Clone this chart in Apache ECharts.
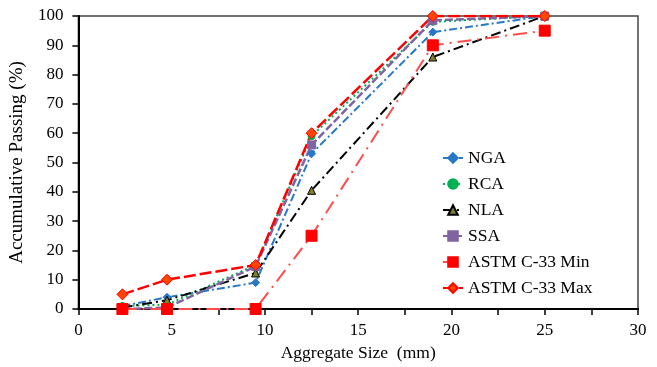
<!DOCTYPE html>
<html>
<head>
<meta charset="utf-8">
<script src="https://cdn.jsdelivr.net/npm/echarts@6/dist/echarts.min.js"></script>
<style>
  html, body { margin: 0; padding: 0; background: #fff; }
  #chart { width: 657px; height: 367px; }
</style>
</head>
<body>
<div id="chart"></div>
<script>
// sieve sizes (mm)
const sizes = [2.36, 4.75, 9.5, 12.5, 19, 25];

// accumulative passing (%)
const nga = [1, 4, 9, 53, 94.5, 100];
const rca = [1, 1.5, 15, 59, 98, 100];
const nla = [0.5, 3, 12.3, 40.5, 86, 100];
const ssa = [0, 0.5, 14.5, 56, 98.5, 100];
const astmMin = [0, 0, 0, 25, 90, 95];
const astmMax = [5, 10, 15, 60, 100, 100];

const serif = 'Liberation Serif';

function pairs(vals) {
  return sizes.map((s, i) => [s, vals[i]]);
}

function line(name, vals, color, dash, width, symbol, size, fill, border) {
  return {
    name: name,
    type: 'line',
    data: pairs(vals),
    symbol: symbol,
    symbolSize: size,
    showSymbol: true,
    lineStyle: { color: color, width: width, type: dash },
    itemStyle: { color: fill || color, borderColor: border || fill || color, borderWidth: 1 },
    emphasis: { disabled: true },
    animation: false,
  };
}

const chart = echarts.init(document.getElementById('chart'));

chart.setOption({
  backgroundColor: '#fff',
  textStyle: { fontFamily: serif },
  grid: {
    left: 78,
    right: 19,
    top: 16,
    bottom: 56,
    show: true,
    borderColor: '#444',
    borderWidth: 1.5,
  },
  legend: {
    orient: 'vertical',
    left: 437,
    top: 144,
    itemWidth: 20,
    itemHeight: 12,
    itemGap: 8,
    textStyle: { fontFamily: serif, fontSize: 17.5, color: '#000' },
    data: ['NGA', 'RCA', 'NLA', 'SSA', 'ASTM C-33 Min', 'ASTM C-33 Max'],
  },
  xAxis: {
    type: 'value',
    min: 0,
    max: 30,
    interval: 2.5,
    name: 'Aggregate Size  (mm)',
    nameLocation: 'middle',
    nameGap: 35,
    nameTextStyle: { fontFamily: serif, fontSize: 17.5, color: '#000' },
    axisLine: { onZero: false, lineStyle: { color: '#000', width: 2 } },
    axisTick: { show: true, length: 6, inside: false, lineStyle: { color: '#000', width: 1.5 } },
    axisLabel: {
      fontFamily: serif,
      fontSize: 17,
      color: '#000',
      margin: 13,
      formatter: v => (v % 5 === 0 ? String(v) : ''),
    },
    splitLine: { show: false },
  },
  yAxis: {
    type: 'value',
    min: 0,
    max: 100,
    interval: 10,
    name: 'Accumulative Passing (%)',
    nameLocation: 'middle',
    nameGap: 45,
    nameTextStyle: { fontFamily: serif, fontSize: 19, color: '#000' },
    axisLine: { show: true, lineStyle: { color: '#000', width: 2 } },
    axisTick: { show: true, length: 6, lineStyle: { color: '#000', width: 1.5 } },
    axisLabel: { fontFamily: serif, fontSize: 17, color: '#000', margin: 15 },
    splitLine: { show: false },
  },
  series: [
    line('NGA', nga, '#2878C8', [8, 3, 2, 3], 2, 'diamond', 8),
    line('RCA', rca, '#00B050', [2, 3], 2, 'circle', 7),
    line('NLA', nla, '#000000', [10, 4, 2, 4], 2, 'triangle', 8, '#7F7F2A', '#000'),
    line('SSA', ssa, '#8064A2', [8, 3], 2.5, 'rect', 8),
    line('ASTM C-33 Min', astmMin, '#FF4D4D', [14, 6, 2, 6], 2, 'rect', 11, '#FF0000'),
    line('ASTM C-33 Max', astmMax, '#FF0000', [12, 4], 2.5, 'diamond', 11, '#FF4500', '#FF0000'),
  ],
});
</script>
</body>
</html>
